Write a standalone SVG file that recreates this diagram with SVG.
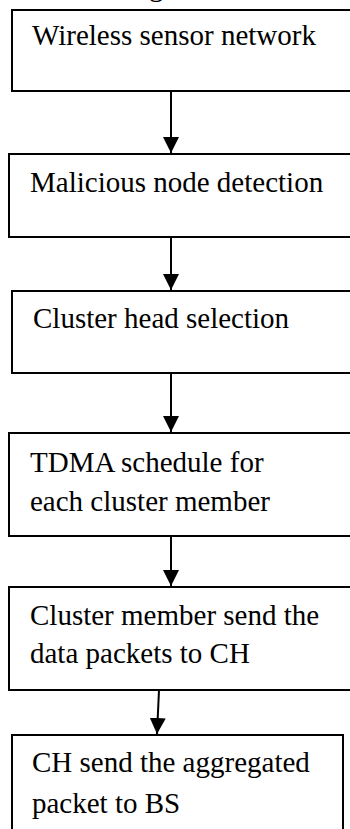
<svg xmlns="http://www.w3.org/2000/svg" width="350" height="829" viewBox="0 0 350 829">
<defs>
<style>
.box{fill:#fff;stroke:#000;stroke-width:2}
.t{font-family:"Liberation Serif","Times New Roman",serif;font-size:29px;fill:#000}
.c{stroke:#000;stroke-width:2;fill:none}
</style>
<marker id="ah" markerUnits="userSpaceOnUse" markerWidth="16" markerHeight="16" viewBox="0 0 16 16" refX="16" refY="8" orient="auto">
<path d="M0,0 L16,8 L0,16 Z" fill="#000"/>
</marker>
</defs>
<rect width="350" height="829" fill="#fff"/>
<text class="t" x="149" y="-4">g</text>
<g id="n1"><rect class="box" x="12" y="10" width="360" height="81"/><text class="t" x="32" y="45">Wireless sensor network</text></g>
<g id="n2"><rect class="box" x="9" y="154" width="360" height="83"/><text class="t" x="30" y="192">Malicious node detection</text></g>
<g id="n3"><rect class="box" x="12" y="291" width="360" height="82"/><text class="t" x="33" y="328">Cluster head selection</text></g>
<g id="n4"><rect class="box" x="9" y="433" width="360" height="103"/><text class="t" x="30" y="472">TDMA schedule for</text><text class="t" x="30" y="511">each cluster member</text></g>
<g id="n5"><rect class="box" x="9" y="587" width="360" height="103"/><text class="t" x="30" y="625">Cluster member send the</text><text class="t" x="30" y="663">data packets to CH</text></g>
<g id="n6"><rect class="box" x="12" y="735" width="331" height="110"/><text class="t" x="32" y="772">CH send the aggregated</text><text class="t" x="32" y="813">packet to BS</text></g>
<g id="connectors">
<line class="c" x1="171" y1="91" x2="171" y2="153" marker-end="url(#ah)"/>
<line class="c" x1="171" y1="237" x2="171" y2="290" marker-end="url(#ah)"/>
<line class="c" x1="171" y1="373" x2="171" y2="432" marker-end="url(#ah)"/>
<line class="c" x1="171" y1="536" x2="171" y2="586" marker-end="url(#ah)"/>
<line class="c" x1="159" y1="690" x2="157" y2="734" marker-end="url(#ah)"/>
</g>
</svg>
